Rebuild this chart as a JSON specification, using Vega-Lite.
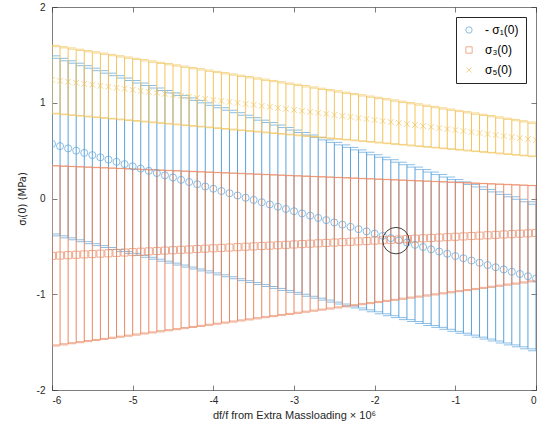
{
  "$schema": "https://vega.github.io/schema/vega-lite/v6.json",
  "width": 484,
  "height": 383,
  "autosize": "none",
  "padding": {"left": 52, "top": 7, "right": 11, "bottom": 46},
  "background": "white",
  "config": {
    "view": {"stroke": null},
    "font": "Liberation Sans",
    "axis": {"grid": false, "domainColor": "#262626", "domainWidth": 0.6, "tickColor": "#262626", "tickWidth": 0.6, "tickSize": -5, "labelColor": "#262626", "labelFont": "Liberation Sans", "labelFontSize": 10, "titleFont": "Liberation Sans", "titleFontSize": 11, "titleFontWeight": "normal", "titleColor": "#262626"}
  },
  "datasets": {
    "main": [
      {"s":"b","x":-6,"y":0.570,"lo":-0.370,"hi":1.490},
      {"s":"b","x":-5.9,"y":0.547,"lo":-0.390,"hi":1.464},
      {"s":"b","x":-5.8,"y":0.523,"lo":-0.411,"hi":1.438},
      {"s":"b","x":-5.7,"y":0.500,"lo":-0.431,"hi":1.413},
      {"s":"b","x":-5.6,"y":0.476,"lo":-0.451,"hi":1.387},
      {"s":"b","x":-5.5,"y":0.453,"lo":-0.472,"hi":1.361},
      {"s":"b","x":-5.4,"y":0.430,"lo":-0.492,"hi":1.335},
      {"s":"b","x":-5.3,"y":0.406,"lo":-0.512,"hi":1.309},
      {"s":"b","x":-5.2,"y":0.383,"lo":-0.533,"hi":1.283},
      {"s":"b","x":-5.1,"y":0.359,"lo":-0.553,"hi":1.258},
      {"s":"b","x":-5,"y":0.336,"lo":-0.573,"hi":1.232},
      {"s":"b","x":-4.9,"y":0.312,"lo":-0.594,"hi":1.206},
      {"s":"b","x":-4.8,"y":0.289,"lo":-0.614,"hi":1.180},
      {"s":"b","x":-4.7,"y":0.266,"lo":-0.634,"hi":1.154},
      {"s":"b","x":-4.6,"y":0.242,"lo":-0.655,"hi":1.128},
      {"s":"b","x":-4.5,"y":0.219,"lo":-0.675,"hi":1.103},
      {"s":"b","x":-4.4,"y":0.195,"lo":-0.695,"hi":1.077},
      {"s":"b","x":-4.3,"y":0.172,"lo":-0.716,"hi":1.051},
      {"s":"b","x":-4.2,"y":0.149,"lo":-0.736,"hi":1.025},
      {"s":"b","x":-4.1,"y":0.125,"lo":-0.756,"hi":0.999},
      {"s":"b","x":-4,"y":0.102,"lo":-0.777,"hi":0.973},
      {"s":"b","x":-3.9,"y":0.078,"lo":-0.797,"hi":0.948},
      {"s":"b","x":-3.8,"y":0.055,"lo":-0.817,"hi":0.922},
      {"s":"b","x":-3.7,"y":0.031,"lo":-0.838,"hi":0.896},
      {"s":"b","x":-3.6,"y":0.008,"lo":-0.858,"hi":0.870},
      {"s":"b","x":-3.5,"y":-0.015,"lo":-0.878,"hi":0.844},
      {"s":"b","x":-3.4,"y":-0.039,"lo":-0.899,"hi":0.818},
      {"s":"b","x":-3.3,"y":-0.062,"lo":-0.919,"hi":0.793},
      {"s":"b","x":-3.2,"y":-0.086,"lo":-0.939,"hi":0.767},
      {"s":"b","x":-3.1,"y":-0.109,"lo":-0.960,"hi":0.741},
      {"s":"b","x":-3,"y":-0.133,"lo":-0.980,"hi":0.715},
      {"s":"b","x":-2.9,"y":-0.156,"lo":-1.000,"hi":0.689},
      {"s":"b","x":-2.8,"y":-0.179,"lo":-1.021,"hi":0.663},
      {"s":"b","x":-2.7,"y":-0.203,"lo":-1.041,"hi":0.638},
      {"s":"b","x":-2.6,"y":-0.226,"lo":-1.061,"hi":0.612},
      {"s":"b","x":-2.5,"y":-0.250,"lo":-1.082,"hi":0.586},
      {"s":"b","x":-2.4,"y":-0.273,"lo":-1.102,"hi":0.560},
      {"s":"b","x":-2.3,"y":-0.296,"lo":-1.122,"hi":0.534},
      {"s":"b","x":-2.2,"y":-0.320,"lo":-1.143,"hi":0.508},
      {"s":"b","x":-2.1,"y":-0.343,"lo":-1.163,"hi":0.483},
      {"s":"b","x":-2,"y":-0.367,"lo":-1.183,"hi":0.457},
      {"s":"b","x":-1.9,"y":-0.390,"lo":-1.204,"hi":0.431},
      {"s":"b","x":-1.8,"y":-0.414,"lo":-1.224,"hi":0.405},
      {"s":"b","x":-1.7,"y":-0.437,"lo":-1.244,"hi":0.379},
      {"s":"b","x":-1.6,"y":-0.460,"lo":-1.265,"hi":0.353},
      {"s":"b","x":-1.5,"y":-0.484,"lo":-1.285,"hi":0.328},
      {"s":"b","x":-1.4,"y":-0.507,"lo":-1.305,"hi":0.302},
      {"s":"b","x":-1.3,"y":-0.531,"lo":-1.326,"hi":0.276},
      {"s":"b","x":-1.2,"y":-0.554,"lo":-1.346,"hi":0.250},
      {"s":"b","x":-1.1,"y":-0.577,"lo":-1.366,"hi":0.224},
      {"s":"b","x":-1,"y":-0.601,"lo":-1.387,"hi":0.198},
      {"s":"b","x":-0.9,"y":-0.624,"lo":-1.407,"hi":0.173},
      {"s":"b","x":-0.8,"y":-0.648,"lo":-1.427,"hi":0.147},
      {"s":"b","x":-0.7,"y":-0.671,"lo":-1.448,"hi":0.121},
      {"s":"b","x":-0.6,"y":-0.695,"lo":-1.468,"hi":0.095},
      {"s":"b","x":-0.5,"y":-0.718,"lo":-1.488,"hi":0.069},
      {"s":"b","x":-0.4,"y":-0.741,"lo":-1.509,"hi":0.043},
      {"s":"b","x":-0.3,"y":-0.765,"lo":-1.529,"hi":0.018},
      {"s":"b","x":-0.2,"y":-0.788,"lo":-1.549,"hi":-0.008},
      {"s":"b","x":-0.1,"y":-0.812,"lo":-1.570,"hi":-0.034},
      {"s":"b","x":0,"y":-0.835,"lo":-1.590,"hi":-0.060},
      {"s":"r","x":-6,"y":-0.600,"lo":-1.540,"hi":0.343},
      {"s":"r","x":-5.9,"y":-0.596,"lo":-1.529,"hi":0.340},
      {"s":"r","x":-5.8,"y":-0.592,"lo":-1.517,"hi":0.336},
      {"s":"r","x":-5.7,"y":-0.588,"lo":-1.506,"hi":0.333},
      {"s":"r","x":-5.6,"y":-0.584,"lo":-1.495,"hi":0.329},
      {"s":"r","x":-5.5,"y":-0.580,"lo":-1.483,"hi":0.326},
      {"s":"r","x":-5.4,"y":-0.576,"lo":-1.472,"hi":0.322},
      {"s":"r","x":-5.3,"y":-0.572,"lo":-1.461,"hi":0.319},
      {"s":"r","x":-5.2,"y":-0.568,"lo":-1.449,"hi":0.315},
      {"s":"r","x":-5.1,"y":-0.564,"lo":-1.438,"hi":0.312},
      {"s":"r","x":-5,"y":-0.560,"lo":-1.427,"hi":0.308},
      {"s":"r","x":-4.9,"y":-0.556,"lo":-1.415,"hi":0.305},
      {"s":"r","x":-4.8,"y":-0.552,"lo":-1.404,"hi":0.301},
      {"s":"r","x":-4.7,"y":-0.548,"lo":-1.393,"hi":0.298},
      {"s":"r","x":-4.6,"y":-0.544,"lo":-1.381,"hi":0.294},
      {"s":"r","x":-4.5,"y":-0.540,"lo":-1.370,"hi":0.291},
      {"s":"r","x":-4.4,"y":-0.536,"lo":-1.359,"hi":0.287},
      {"s":"r","x":-4.3,"y":-0.532,"lo":-1.347,"hi":0.284},
      {"s":"r","x":-4.2,"y":-0.528,"lo":-1.336,"hi":0.280},
      {"s":"r","x":-4.1,"y":-0.524,"lo":-1.325,"hi":0.277},
      {"s":"r","x":-4,"y":-0.520,"lo":-1.313,"hi":0.273},
      {"s":"r","x":-3.9,"y":-0.516,"lo":-1.302,"hi":0.270},
      {"s":"r","x":-3.8,"y":-0.512,"lo":-1.291,"hi":0.266},
      {"s":"r","x":-3.7,"y":-0.508,"lo":-1.279,"hi":0.263},
      {"s":"r","x":-3.6,"y":-0.504,"lo":-1.268,"hi":0.259},
      {"s":"r","x":-3.5,"y":-0.500,"lo":-1.257,"hi":0.256},
      {"s":"r","x":-3.4,"y":-0.496,"lo":-1.245,"hi":0.252},
      {"s":"r","x":-3.3,"y":-0.492,"lo":-1.234,"hi":0.249},
      {"s":"r","x":-3.2,"y":-0.488,"lo":-1.223,"hi":0.245},
      {"s":"r","x":-3.1,"y":-0.484,"lo":-1.211,"hi":0.242},
      {"s":"r","x":-3,"y":-0.480,"lo":-1.200,"hi":0.238},
      {"s":"r","x":-2.9,"y":-0.476,"lo":-1.189,"hi":0.235},
      {"s":"r","x":-2.8,"y":-0.472,"lo":-1.177,"hi":0.231},
      {"s":"r","x":-2.7,"y":-0.468,"lo":-1.166,"hi":0.228},
      {"s":"r","x":-2.6,"y":-0.464,"lo":-1.155,"hi":0.225},
      {"s":"r","x":-2.5,"y":-0.460,"lo":-1.143,"hi":0.221},
      {"s":"r","x":-2.4,"y":-0.456,"lo":-1.132,"hi":0.218},
      {"s":"r","x":-2.3,"y":-0.452,"lo":-1.121,"hi":0.214},
      {"s":"r","x":-2.2,"y":-0.448,"lo":-1.109,"hi":0.211},
      {"s":"r","x":-2.1,"y":-0.444,"lo":-1.098,"hi":0.207},
      {"s":"r","x":-2,"y":-0.440,"lo":-1.087,"hi":0.204},
      {"s":"r","x":-1.9,"y":-0.436,"lo":-1.075,"hi":0.200},
      {"s":"r","x":-1.8,"y":-0.432,"lo":-1.064,"hi":0.197},
      {"s":"r","x":-1.7,"y":-0.428,"lo":-1.053,"hi":0.193},
      {"s":"r","x":-1.6,"y":-0.424,"lo":-1.041,"hi":0.190},
      {"s":"r","x":-1.5,"y":-0.420,"lo":-1.030,"hi":0.186},
      {"s":"r","x":-1.4,"y":-0.416,"lo":-1.019,"hi":0.183},
      {"s":"r","x":-1.3,"y":-0.412,"lo":-1.007,"hi":0.179},
      {"s":"r","x":-1.2,"y":-0.408,"lo":-0.996,"hi":0.176},
      {"s":"r","x":-1.1,"y":-0.404,"lo":-0.985,"hi":0.172},
      {"s":"r","x":-1,"y":-0.400,"lo":-0.973,"hi":0.169},
      {"s":"r","x":-0.9,"y":-0.396,"lo":-0.962,"hi":0.165},
      {"s":"r","x":-0.8,"y":-0.392,"lo":-0.951,"hi":0.162},
      {"s":"r","x":-0.7,"y":-0.388,"lo":-0.939,"hi":0.158},
      {"s":"r","x":-0.6,"y":-0.384,"lo":-0.928,"hi":0.155},
      {"s":"r","x":-0.5,"y":-0.380,"lo":-0.917,"hi":0.151},
      {"s":"r","x":-0.4,"y":-0.376,"lo":-0.905,"hi":0.148},
      {"s":"r","x":-0.3,"y":-0.372,"lo":-0.894,"hi":0.144},
      {"s":"r","x":-0.2,"y":-0.368,"lo":-0.883,"hi":0.141},
      {"s":"r","x":-0.1,"y":-0.364,"lo":-0.871,"hi":0.137},
      {"s":"r","x":0,"y":-0.360,"lo":-0.860,"hi":0.134},
      {"s":"y","x":-6,"y":1.240,"lo":0.890,"hi":1.600},
      {"s":"y","x":-5.9,"y":1.230,"lo":0.882,"hi":1.586},
      {"s":"y","x":-5.8,"y":1.219,"lo":0.875,"hi":1.573},
      {"s":"y","x":-5.7,"y":1.209,"lo":0.867,"hi":1.559},
      {"s":"y","x":-5.6,"y":1.198,"lo":0.860,"hi":1.546},
      {"s":"y","x":-5.5,"y":1.188,"lo":0.852,"hi":1.532},
      {"s":"y","x":-5.4,"y":1.177,"lo":0.845,"hi":1.519},
      {"s":"y","x":-5.3,"y":1.167,"lo":0.837,"hi":1.505},
      {"s":"y","x":-5.2,"y":1.156,"lo":0.830,"hi":1.491},
      {"s":"y","x":-5.1,"y":1.146,"lo":0.822,"hi":1.478},
      {"s":"y","x":-5,"y":1.135,"lo":0.815,"hi":1.464},
      {"s":"y","x":-4.9,"y":1.125,"lo":0.807,"hi":1.451},
      {"s":"y","x":-4.8,"y":1.114,"lo":0.799,"hi":1.437},
      {"s":"y","x":-4.7,"y":1.104,"lo":0.792,"hi":1.423},
      {"s":"y","x":-4.6,"y":1.093,"lo":0.784,"hi":1.410},
      {"s":"y","x":-4.5,"y":1.083,"lo":0.777,"hi":1.396},
      {"s":"y","x":-4.4,"y":1.072,"lo":0.769,"hi":1.383},
      {"s":"y","x":-4.3,"y":1.062,"lo":0.762,"hi":1.369},
      {"s":"y","x":-4.2,"y":1.051,"lo":0.754,"hi":1.356},
      {"s":"y","x":-4.1,"y":1.041,"lo":0.747,"hi":1.342},
      {"s":"y","x":-4,"y":1.030,"lo":0.739,"hi":1.328},
      {"s":"y","x":-3.9,"y":1.020,"lo":0.731,"hi":1.315},
      {"s":"y","x":-3.8,"y":1.009,"lo":0.724,"hi":1.301},
      {"s":"y","x":-3.7,"y":0.999,"lo":0.716,"hi":1.288},
      {"s":"y","x":-3.6,"y":0.988,"lo":0.709,"hi":1.274},
      {"s":"y","x":-3.5,"y":0.978,"lo":0.701,"hi":1.260},
      {"s":"y","x":-3.4,"y":0.967,"lo":0.694,"hi":1.247},
      {"s":"y","x":-3.3,"y":0.957,"lo":0.686,"hi":1.233},
      {"s":"y","x":-3.2,"y":0.946,"lo":0.679,"hi":1.220},
      {"s":"y","x":-3.1,"y":0.936,"lo":0.671,"hi":1.206},
      {"s":"y","x":-3,"y":0.925,"lo":0.664,"hi":1.193},
      {"s":"y","x":-2.9,"y":0.915,"lo":0.656,"hi":1.179},
      {"s":"y","x":-2.8,"y":0.904,"lo":0.648,"hi":1.165},
      {"s":"y","x":-2.7,"y":0.894,"lo":0.641,"hi":1.152},
      {"s":"y","x":-2.6,"y":0.883,"lo":0.633,"hi":1.138},
      {"s":"y","x":-2.5,"y":0.873,"lo":0.626,"hi":1.125},
      {"s":"y","x":-2.4,"y":0.862,"lo":0.618,"hi":1.111},
      {"s":"y","x":-2.3,"y":0.852,"lo":0.611,"hi":1.097},
      {"s":"y","x":-2.2,"y":0.841,"lo":0.603,"hi":1.084},
      {"s":"y","x":-2.1,"y":0.831,"lo":0.596,"hi":1.070},
      {"s":"y","x":-2,"y":0.820,"lo":0.588,"hi":1.057},
      {"s":"y","x":-1.9,"y":0.810,"lo":0.580,"hi":1.043},
      {"s":"y","x":-1.8,"y":0.799,"lo":0.573,"hi":1.030},
      {"s":"y","x":-1.7,"y":0.789,"lo":0.565,"hi":1.016},
      {"s":"y","x":-1.6,"y":0.778,"lo":0.558,"hi":1.002},
      {"s":"y","x":-1.5,"y":0.768,"lo":0.550,"hi":0.989},
      {"s":"y","x":-1.4,"y":0.757,"lo":0.543,"hi":0.975},
      {"s":"y","x":-1.3,"y":0.747,"lo":0.535,"hi":0.962},
      {"s":"y","x":-1.2,"y":0.736,"lo":0.528,"hi":0.948},
      {"s":"y","x":-1.1,"y":0.726,"lo":0.520,"hi":0.934},
      {"s":"y","x":-1,"y":0.715,"lo":0.513,"hi":0.921},
      {"s":"y","x":-0.9,"y":0.705,"lo":0.505,"hi":0.907},
      {"s":"y","x":-0.8,"y":0.694,"lo":0.497,"hi":0.894},
      {"s":"y","x":-0.7,"y":0.684,"lo":0.490,"hi":0.880},
      {"s":"y","x":-0.6,"y":0.673,"lo":0.482,"hi":0.867},
      {"s":"y","x":-0.5,"y":0.663,"lo":0.475,"hi":0.853},
      {"s":"y","x":-0.4,"y":0.652,"lo":0.467,"hi":0.839},
      {"s":"y","x":-0.3,"y":0.642,"lo":0.460,"hi":0.826},
      {"s":"y","x":-0.2,"y":0.631,"lo":0.452,"hi":0.812},
      {"s":"y","x":-0.1,"y":0.621,"lo":0.445,"hi":0.799},
      {"s":"y","x":0,"y":0.610,"lo":0.437,"hi":0.785}
    ],
    "note": [{"x": -1.736, "y": -0.44}]
  },
  "layer": [
    {
      "data": {"name": "main"},
      "encoding": {
        "x": {"field": "x", "type": "quantitative", "scale": {"domain": [-6, 0], "nice": false, "zero": false},
              "axis": {"values": [-6, -5, -4, -3, -2, -1, 0], "labelExpr": "toString(datum.value)", "labelPadding": 10, "title": "df/f from Extra Massloading × 10⁶", "titlePadding": 4}}
      },
      "layer": [
        {"transform": [{"filter": "datum.s == 'b'"}],
         "mark": {"type": "rule", "strokeWidth": 1, "clip": true, "color": "#5aa3da"},
         "encoding": {"y": {"field": "lo", "type": "quantitative", "scale": {"domain": [-2, 2], "nice": false},
                            "axis": {"values": [-2, -1, 0, 1, 2], "labelExpr": "toString(datum.value)", "labelPadding": 12, "title": "σᵢ(0) (MPa)", "titleFont": "DejaVu Sans", "titleFontSize": 10, "titlePadding": 9}},
                      "y2": {"field": "hi"}}},
        {"transform": [{"filter": "datum.s == 'b'"}],
         "mark": {"type": "tick", "orient": "horizontal", "size": 16, "thickness": 1, "clip": true, "color": "#5aa3da"},
         "encoding": {"y": {"field": "lo", "type": "quantitative"}}},
        {"transform": [{"filter": "datum.s == 'b'"}],
         "mark": {"type": "tick", "orient": "horizontal", "size": 16, "thickness": 1, "clip": true, "color": "#5aa3da"},
         "encoding": {"y": {"field": "hi", "type": "quantitative"}}},
        {"transform": [{"filter": "datum.s == 'r'"}],
         "mark": {"type": "rule", "strokeWidth": 1, "clip": true, "color": "#ea8861"},
         "encoding": {"y": {"field": "lo", "type": "quantitative"}, "y2": {"field": "hi"}}},
        {"transform": [{"filter": "datum.s == 'r'"}],
         "mark": {"type": "tick", "orient": "horizontal", "size": 16, "thickness": 1, "clip": true, "color": "#ea8861"},
         "encoding": {"y": {"field": "lo", "type": "quantitative"}}},
        {"transform": [{"filter": "datum.s == 'r'"}],
         "mark": {"type": "tick", "orient": "horizontal", "size": 16, "thickness": 1, "clip": true, "color": "#ea8861"},
         "encoding": {"y": {"field": "hi", "type": "quantitative"}}},
        {"transform": [{"filter": "datum.s == 'y'"}],
         "mark": {"type": "rule", "strokeWidth": 1, "clip": true, "color": "#f2c55c"},
         "encoding": {"y": {"field": "lo", "type": "quantitative"}, "y2": {"field": "hi"}}},
        {"transform": [{"filter": "datum.s == 'y'"}],
         "mark": {"type": "tick", "orient": "horizontal", "size": 16, "thickness": 1, "clip": true, "color": "#f2c55c"},
         "encoding": {"y": {"field": "lo", "type": "quantitative"}}},
        {"transform": [{"filter": "datum.s == 'y'"}],
         "mark": {"type": "tick", "orient": "horizontal", "size": 16, "thickness": 1, "clip": true, "color": "#f2c55c"},
         "encoding": {"y": {"field": "hi", "type": "quantitative"}}},
        {"mark": {"type": "point", "filled": false, "strokeWidth": 1, "opacity": 0.7, "size": 50, "clip": true},
         "encoding": {"y": {"field": "y", "type": "quantitative"},
                      "color": {"field": "s", "type": "nominal",
                                "scale": {"domain": ["b", "r", "y"], "range": ["#5aa3da", "#ea8861", "#f2c55c"]},
                                "legend": {"title": null, "orient": "none", "legendX": 404, "legendY": 10, "labelExpr": "datum.label == 'b' ? '- σ₁(0)' : datum.label == 'r' ? 'σ₃(0)' : 'σ₅(0)'", "labelFont": "Liberation Sans", "labelFontSize": 12, "labelColor": "#000000", "symbolSize": 40, "symbolStrokeWidth": 1, "symbolOpacity": 0.7, "rowPadding": 8, "padding": 7, "strokeColor": "#262626", "fillColor": "white", "labelOffset": 10}},
                      "shape": {"field": "s", "type": "nominal", "scale": {"domain": ["b", "r", "y"], "range": ["circle", "square", "M-0.8,-0.8L0.8,0.8M0.8,-0.8L-0.8,0.8"]}}}},
        {"data": {"name": "note"},
         "mark": {"type": "point", "shape": "circle", "filled": false, "size": 700, "strokeWidth": 1, "opacity": 1, "color": "#404040"},
         "encoding": {"x": {"field": "x", "type": "quantitative"}, "y": {"field": "y", "type": "quantitative"}}}
      ]
    },
    {
      "data": {"name": "note"},
      "mark": {"type": "point", "opacity": 0},
      "encoding": {
        "x": {"field": "x", "type": "quantitative", "axis": {"orient": "top", "values": [-6, -5, -4, -3, -2, -1, 0], "labels": false, "title": null}},
        "y": {"field": "y", "type": "quantitative", "axis": {"orient": "right", "values": [-2, -1, 0, 1, 2], "labels": false, "title": null}}
      }
    }
  ],
  "resolve": {"axis": {"x": "independent", "y": "independent"}}
}
